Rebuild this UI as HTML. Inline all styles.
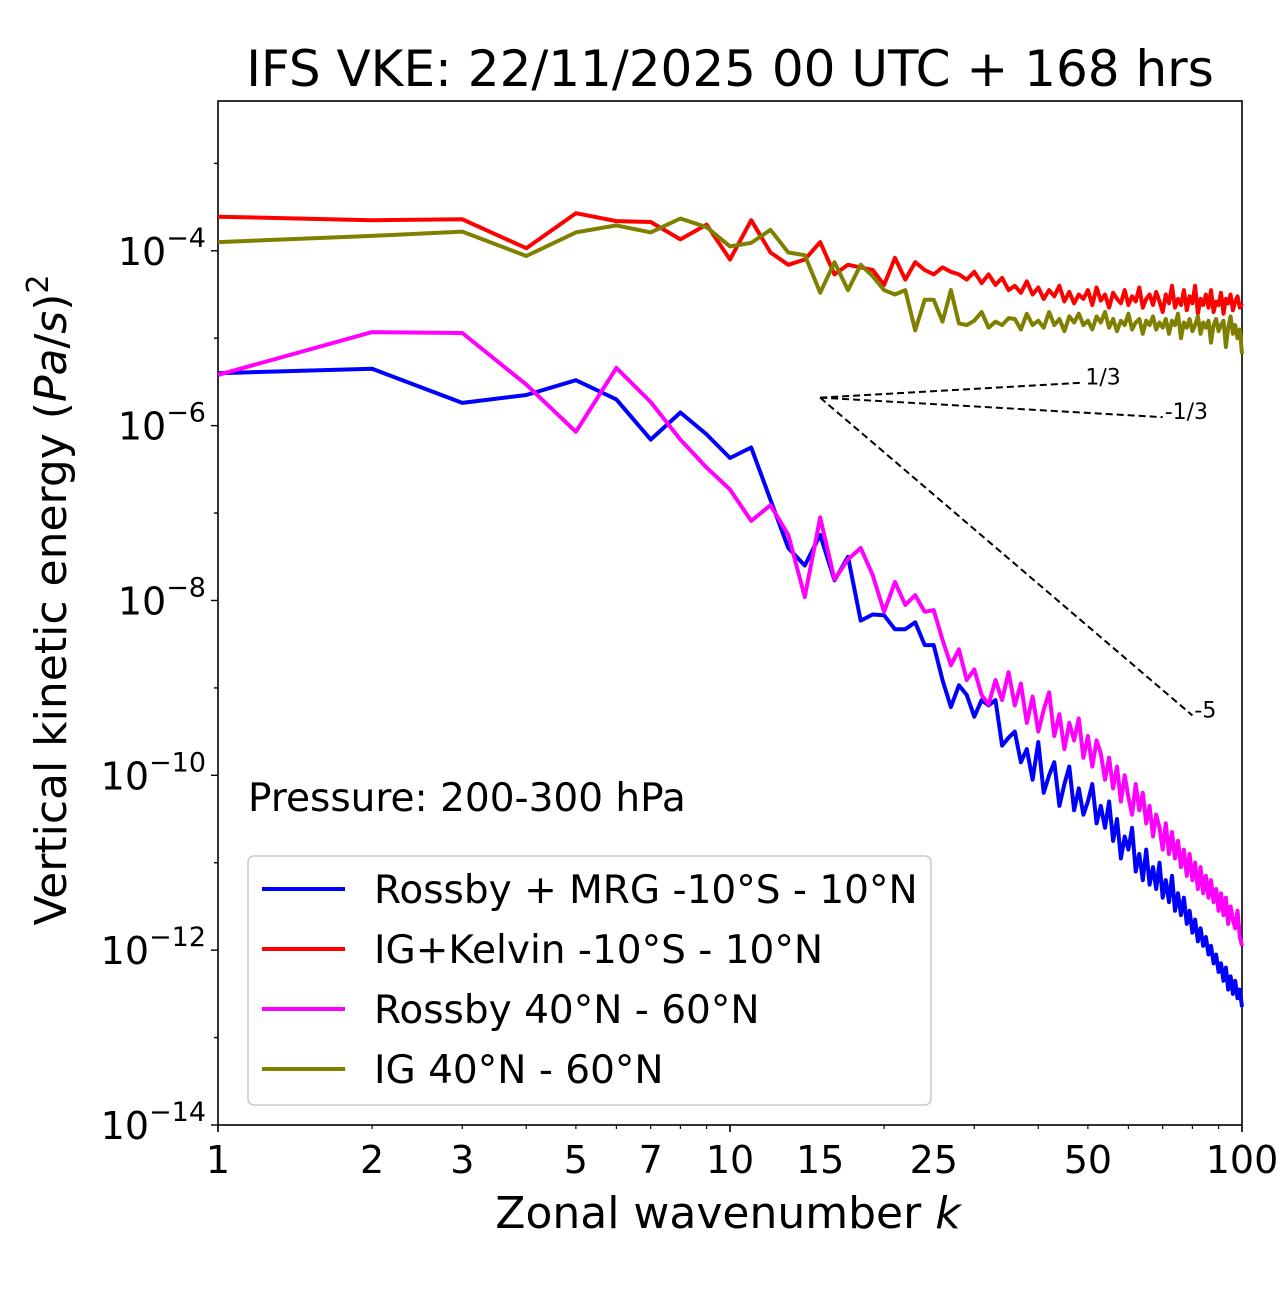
<!DOCTYPE html>
<html><head><meta charset="utf-8">
<style>
body{margin:0;background:#fff;}
svg text{font-family:"DejaVu Sans","Liberation Sans",sans-serif;}
</style></head>
<body>
<svg id="chart" width="1280" height="1288" xmlns="http://www.w3.org/2000/svg">
<rect width="1280" height="1288" fill="#fff"/>
<text x="730" y="86" font-size="50" text-anchor="middle">IFS VKE: 22/11/2025 00 UTC + 168 hrs</text>
<g id="plot"></g>
<text x="0" y="0" font-size="44" text-anchor="middle" transform="translate(66,600) rotate(-90)">Vertical kinetic energy (<tspan font-style="italic">Pa</tspan>/<tspan font-style="italic">s</tspan>)<tspan font-size="30" dy="-18">2</tspan></text>
<text x="728" y="1228" font-size="44" text-anchor="middle">Zonal wavenumber <tspan font-style="italic">k</tspan></text>
<text x="248" y="811" font-size="39">Pressure: 200-300 hPa</text>
</svg>
<script>
const seriesNames = ["Rossby + MRG -10°S - 10°N","IG+Kelvin -10°S - 10°N","Rossby 40°N - 60°N","IG 40°N - 60°N"];
const seriesColors = ["#0000ff","#ff0000","#ff00ff","#808000"];
const xTicks = [1,2,3,5,7,10,15,25,50,100];
const yTickExps = [-14,-12,-10,-8,-6,-4];
const refSlopes = [1/3,-1/3,-5];
const refLabels = ["1/3","-1/3","-5"];
const refEnds = [49,70,80];
const refStartK = 15;
const refStartLog = -5.68;
// log10 values, k = 1..100
const redLog = [-3.61,-3.65,-3.64,-3.97,-3.57,-3.66,-3.67,-3.87,-3.70,-4.10,-3.65,-4.02,-4.16,-4.10,-3.90,-4.27,-4.16,-4.19,-4.22,-4.39,-4.08,-4.33,-4.13,-4.22,-4.27,-4.19,-4.24,-4.27,-4.33,-4.24,-4.37,-4.27,-4.39,-4.31,-4.45,
-4.40,-4.48,-4.35,-4.50,-4.42,-4.55,-4.45,-4.52,-4.40,-4.58,-4.47,-4.60,-4.50,-4.55,-4.45,-4.62,-4.42,-4.57,-4.50,-4.65,-4.48,-4.55,-4.60,-4.45,-4.62,-4.52,-4.58,-4.42,-4.65,-4.55,-4.50,-4.62,-4.47,-4.58,-4.70,-4.50,-4.60,-4.40,-4.65,-4.55,-4.62,-4.45,-4.68,-4.52,-4.60,-4.40,-4.72,-4.55,-4.62,-4.50,-4.65,-4.45,-4.70,-4.58,-4.62,-4.48,-4.72,-4.55,-4.60,-4.50,-4.68,-4.58,-4.52,-4.65,-4.60];
const oliveLog = [-3.90,-3.83,-3.78,-4.06,-3.79,-3.71,-3.79,-3.63,-3.73,-3.95,-3.91,-3.76,-4.02,-4.05,-4.48,-4.13,-4.45,-4.16,-4.29,-4.45,-4.50,-4.45,-4.91,-4.56,-4.56,-4.81,-4.45,-4.83,-4.85,-4.80,-4.70,-4.88,-4.81,-4.85,-4.77,
-4.78,-4.90,-4.72,-4.85,-4.80,-4.88,-4.70,-4.85,-4.78,-4.92,-4.75,-4.82,-4.72,-4.85,-4.80,-4.90,-4.75,-4.82,-4.70,-4.88,-4.78,-4.92,-4.80,-4.85,-4.72,-4.90,-4.82,-4.78,-4.95,-4.80,-4.85,-4.75,-4.90,-4.82,-4.88,-4.78,-4.95,-4.80,-4.85,-4.72,-5.00,-4.82,-4.88,-4.78,-4.92,-4.85,-4.75,-4.95,-4.82,-4.88,-4.80,-5.05,-4.85,-4.78,-4.92,-4.85,-4.80,-5.10,-4.88,-4.75,-4.95,-4.85,-5.00,-4.90,-5.18];
const blueLog = [-5.40,-5.35,-5.74,-5.65,-5.48,-5.70,-6.16,-5.85,-6.10,-6.37,-6.25,-6.85,-7.40,-7.60,-7.25,-7.77,-7.50,-8.23,-8.16,-8.17,-8.33,-8.33,-8.25,-8.51,-8.51,-8.91,-9.22,-8.97,-9.08,-9.33,-9.14,-9.20,-9.14,-9.66,-9.57,
-9.50,-9.85,-9.70,-10.05,-9.62,-10.20,-10.0,-9.85,-10.35,-10.10,-9.90,-10.40,-10.15,-10.45,-10.30,-10.10,-10.55,-10.35,-10.60,-10.30,-10.75,-10.50,-10.95,-10.70,-10.85,-10.60,-11.10,-10.90,-11.20,-10.85,-11.25,-11.05,-11.30,-11.00,-11.40,-11.20,-11.45,-11.15,-11.55,-11.35,-11.60,-11.40,-11.70,-11.55,-11.80,-11.65,-11.90,-11.75,-11.95,-11.85,-12.05,-11.95,-12.15,-12.05,-12.25,-12.15,-12.35,-12.20,-12.45,-12.30,-12.50,-12.35,-12.55,-12.45,-12.65];
const magentaLog = [-5.42,-4.93,-4.94,-5.53,-6.07,-5.34,-5.73,-6.16,-6.48,-6.73,-7.09,-6.91,-7.25,-7.96,-7.05,-7.76,-7.53,-7.40,-7.71,-8.13,-7.79,-8.05,-7.94,-8.13,-8.11,-8.45,-8.74,-8.56,-8.91,-8.79,-9.08,-9.19,-8.91,-9.14,-8.82,
-9.20,-8.95,-9.40,-9.10,-9.50,-9.25,-9.05,-9.55,-9.30,-9.70,-9.40,-9.60,-9.35,-9.80,-9.55,-9.90,-9.60,-9.75,-10.05,-9.80,-10.15,-9.90,-10.30,-10.0,-10.25,-10.45,-10.10,-10.40,-10.20,-10.55,-10.35,-10.70,-10.45,-10.60,-10.85,-10.55,-10.90,-10.65,-10.95,-10.75,-11.05,-10.85,-11.15,-10.90,-11.20,-11.00,-11.30,-11.05,-11.35,-11.15,-11.40,-11.20,-11.45,-11.30,-11.55,-11.35,-11.60,-11.40,-11.70,-11.50,-11.65,-11.75,-11.55,-11.85,-11.95];

const NS="http://www.w3.org/2000/svg";
const X0=218,X1=1242,Y0=101,Y1=1125;
const xs=k=>X0+(X1-X0)*Math.log10(k)/2;
const ys=l=>1125-(l+14)*87.42;
const plot=document.getElementById('plot');
function mk(t,a,p){const e=document.createElementNS(NS,t);for(const k in a)e.setAttribute(k,a[k]);(p||plot).appendChild(e);return e;}

const frame=mk('rect',{x:X0,y:Y0,width:X1-X0,height:Y1-Y0,fill:'none',stroke:'#000','stroke-width':1.6});



for(let d=1;d<=100;d*=10){for(let m=1;m<10;m++){const k=d*m;if(k>100)break;const x=xs(k);const major=(m===1);
mk('line',{x1:x,x2:x,y1:Y1,y2:Y1+(major?7:4),stroke:'#000','stroke-width':major?1.6:1.2});}}
xTicks.forEach(k=>{const t=mk('text',{x:xs(k),y:Y1+48,'font-size':38,'text-anchor':'middle'});t.textContent=k;

});
for(let e=-14;e<=-3;e++){const y=ys(e);mk('line',{x1:X0-(e%2===0?7:4),x2:X0,y1:y,y2:y,stroke:'#000','stroke-width':1.4});}
yTickExps.forEach(e=>{const t=mk('text',{x:X0-12,y:ys(e)+14,'font-size':38,'text-anchor':'end'});
t.innerHTML='10<tspan font-size="27" dy="-18">\u2212'+Math.abs(e)+'</tspan>';

});

const allSeries=[blueLog,redLog,magentaLog,oliveLog];
const order=[1,3,0,2];
order.forEach(i=>{const arr=allSeries[i];const pts=arr.map((v,j)=>xs(j+1).toFixed(1)+','+ys(v).toFixed(1)).join(' ');
const p=mk('polyline',{points:pts,fill:'none',stroke:seriesColors[i],'stroke-width':4,'stroke-linejoin':'round'});

});

refSlopes.forEach((s,i)=>{const k2=refEnds[i];const l2=refStartLog+s*Math.log10(k2/refStartK);
const ln=mk('line',{x1:xs(refStartK),y1:ys(refStartLog),x2:xs(k2),y2:ys(l2),stroke:'#000','stroke-width':2,'stroke-dasharray':'7,4'});


const t=mk('text',{x:xs(k2)+2,y:ys(l2)+2,'font-size':22});t.textContent=refLabels[i];

});

const lg=mk('g',{});


mk('rect',{x:248,y:856,width:683,height:249,rx:6,fill:'#fff','fill-opacity':0.8,stroke:'#ccc','stroke-width':1.6},lg);
seriesNames.forEach((n,i)=>{const y=889+i*60;
const l=mk('line',{x1:262,x2:345,y1:y,y2:y,stroke:seriesColors[i],'stroke-width':4},lg);


const t=mk('text',{x:374,y:y+14,'font-size':39},lg);t.textContent=n;

});
</script>
</body></html>
